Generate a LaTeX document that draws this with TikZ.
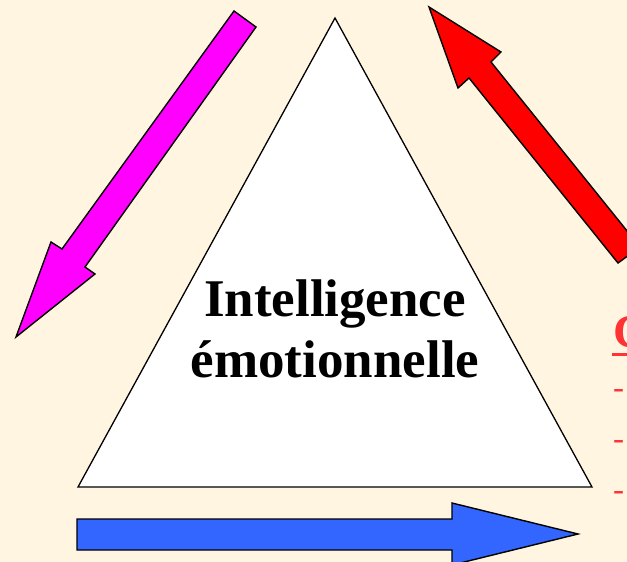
\documentclass[tikz,border=0pt]{standalone}
\usepackage{fontspec}
\setmainfont{Liberation Serif}
\definecolor{bgcream}{HTML}{FFF5E1}
\definecolor{magentaA}{HTML}{FF00FF}
\definecolor{redA}{HTML}{FF0000}
\definecolor{blueA}{HTML}{3366FF}
\definecolor{redT}{HTML}{FF3333}
\tikzset{
  blockarrow/.style={draw=black, line width=1.4pt, line join=miter},
  tri/.style={draw=black, fill=white, line width=1.3pt, line join=miter},
  mainlabel/.style={anchor=base, inner sep=0pt, font=\fontsize{53}{60}\selectfont\bfseries},
  redlabel/.style={anchor=base west, inner sep=0pt, text=redT},
}
\begin{document}
\begin{tikzpicture}[x=1pt,y=-1pt]
\useasboundingbox (0,0) rectangle (627,562);
\clip (0,0) rectangle (627,562);
\fill[bgcream] (0,0) rectangle (627,562);
% triangle
\draw[tri] (335,18) -- (78,487) -- (592,487) -- cycle;
% magenta arrow
\draw[blockarrow, fill=magentaA] (234,11) -- (256,27) -- (85,267) -- (95,274) -- (16,337) -- (51,242) -- (62,249) -- cycle;
% red arrow
\draw[blockarrow, fill=redA] (429,7) -- (501,52) -- (491,62) -- (640,247) -- (618,263) -- (469,78) -- (458,88) -- cycle;
% blue arrow
\draw[blockarrow, fill=blueA] (77,519) -- (452,519) -- (452,503) -- (578,534) -- (452,565) -- (452,550) -- (77,550) -- cycle;
% main text
\node[mainlabel] (t1) at (335,316) {Intelligence};
\node[mainlabel] (t2) at (335,377) {émotionnelle};
% red cropped text
\node[redlabel, font=\fontsize{47}{52}\selectfont\bfseries] (c1) at (613,347) {C};
\draw[redT, line width=3pt] (612,354) -- (627,354);
\node[redlabel, font=\fontsize{33}{36}\selectfont] (d1) at (613,398) {-};
\node[redlabel, font=\fontsize{33}{36}\selectfont] (d2) at (613,449) {-};
\node[redlabel, font=\fontsize{33}{36}\selectfont] (d3) at (613,500) {-};
\end{tikzpicture}
\end{document}
